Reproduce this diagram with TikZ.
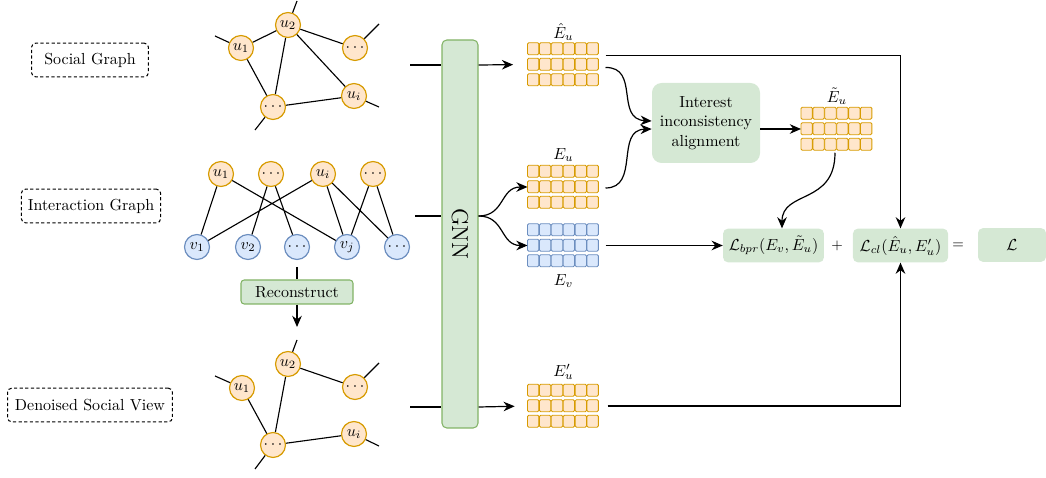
\documentclass[tikz,border=0pt]{standalone}
\usepackage{graphicx}
\usetikzlibrary{arrows.meta,calc}
\definecolor{ofill}{HTML}{FFE6CC}
\definecolor{odraw}{HTML}{D79B00}
\definecolor{bfill}{HTML}{DAE8FC}
\definecolor{bdraw}{HTML}{6C8EBF}
\definecolor{gfill}{HTML}{D5E8D4}
\definecolor{gdraw}{HTML}{82B366}
\newcommand\mycells[3]{%
  \foreach \r in {0,1,2}{\foreach \c in {0,...,5}{
    \draw[fill=#2,draw=#3,line width=0.55pt,rounded corners=0.8pt]
      ($(#1.north west)+(\c*11.9,\r*15.5)$) rectangle ++(11.4,12);
  }}}
\begin{document}
\begin{tikzpicture}[x=0.625pt,y=-0.625pt,
  unode/.style={circle,draw=odraw,fill=ofill,line width=0.75pt,minimum size=15.6pt,inner sep=0pt},
  inode/.style={circle,draw=bdraw,fill=bfill,line width=0.75pt,minimum size=15.6pt,inner sep=0pt},
  tagbox/.style={draw,dashed,dash pattern=on 2pt off 1.5pt,rounded corners=2.5pt,line width=0.65pt,minimum height=21pt,inner sep=2pt},
  edge/.style={line width=0.7pt},
  arr/.style={line width=0.75pt,-{Stealth[length=7pt,width=6pt]}},
  mat/.style={minimum width=44.6pt,minimum height=26.8pt,inner sep=0pt},
  gbox/.style={fill=gfill,rounded corners=3pt,inner sep=0pt,minimum height=21pt},
  sym/.style={font=\sffamily\small,inner sep=0pt}
]
\useasboundingbox (0,0) rectangle (1046,478);

% ---------- Social graph ----------
\node[tagbox,minimum width=73pt] (tsg) at (90,60) {Social Graph};
\node[unode] (s1) at (241,48) {$u_1$};
\node[unode] (s2) at (288,25) {$u_2$};
\node[unode] (s3) at (355,48) {$\cdots$};
\node[unode] (s4) at (273,107) {$\cdots$};
\node[unode] (s5) at (354,96) {$u_i$};
\coordinate (s1a) at (215,36);
\coordinate (s2a) at (297,1);
\coordinate (s3a) at (379,24);
\coordinate (s4a) at (255,130);
\coordinate (s5a) at (379,107);
\draw[edge] (s1)--(s2) (s2)--(s3) (s2)--(s4) (s2)--(s5) (s1)--(s4) (s4)--(s5)
  (s1)--(s1a) (s2)--(s2a) (s3)--(s3a) (s4)--(s4a) (s5)--(s5a);

% ---------- Interaction graph ----------
\node[tagbox,minimum width=87pt] (tig) at (91,206) {Interaction Graph};
\node[unode] (a1) at (221,174) {$u_1$};
\node[unode] (a2) at (271,174) {$\cdots$};
\node[unode] (a3) at (323,174) {$u_i$};
\node[unode] (a4) at (373,174) {$\cdots$};
\node[inode] (b1) at (197,247) {$v_1$};
\node[inode] (b2) at (248,247) {$v_2$};
\node[inode] (b3) at (297,247) {$\cdots$};
\node[inode] (b4) at (347,247) {$v_j$};
\node[inode] (b5) at (397,247) {$\cdots$};
\draw[edge] (a1)--(b1) (a1)--(b4) (a2)--(b2) (a2)--(b3) (a3)--(b1) (a3)--(b4)
  (a3)--(b5) (a4)--(b4) (a4)--(b5);

% ---------- Reconstruct ----------
\node[fill=gfill,draw=gdraw,line width=0.65pt,rounded corners=2pt,minimum width=70pt,minimum height=15pt,inner sep=0pt] (rec) at (297,292) {Reconstruct};
\coordinate (rtop) at (297,267);
\coordinate (rbot) at (297,327);
\draw[edge] (rtop) -- (rec.north);
\draw[arr] (rec.south) -- (rbot);

% ---------- Denoised social view ----------
\node[tagbox,minimum width=103pt] (tds) at (90,405) {Denoised Social View};
\node[unode] (d1) at (242,388) {$u_1$};
\node[unode] (d2) at (288,364) {$u_2$};
\node[unode] (d3) at (355,387) {$\cdots$};
\node[unode] (d4) at (273,445) {$\cdots$};
\node[unode] (d5) at (354,434) {$u_i$};
\coordinate (d1a) at (215,376);
\coordinate (d2a) at (297,340);
\coordinate (d3a) at (379,363);
\coordinate (d4a) at (255,469);
\coordinate (d5a) at (379,446);
\draw[edge] (d2)--(d3) (d2)--(d4) (d1)--(d4) (d4)--(d5)
  (d1)--(d1a) (d2)--(d2a) (d3)--(d3a) (d4)--(d4a) (d5)--(d5a);

% ---------- GNN ----------
\node[fill=gfill,draw=gdraw,line width=0.65pt,rounded corners=3pt,minimum width=22.5pt,minimum height=242.5pt,inner sep=0pt] (gnn) at (460,234) {\rotatebox{-90}{\Large GNN}};

% ---------- matrices ----------
\node[mat] (Eh) at (563.5,64.5) {};
\mycells{Eh}{ofill}{odraw}
\node[inner sep=1pt] (lEh) at (563.5,32) {$\hat{E}_u$};
\node[mat] (Eu) at (563.5,187) {};
\mycells{Eu}{ofill}{odraw}
\node[inner sep=1pt] (lEu) at (563.5,155) {$E_u$};
\node[mat] (Ev) at (563.5,245.5) {};
\mycells{Ev}{bfill}{bdraw}
\node[inner sep=1pt] (lEv) at (563.5,281) {$E_v$};
\node[mat] (Ep) at (563.5,406) {};
\mycells{Ep}{ofill}{odraw}
\node[inner sep=1pt] (lEp) at (563.5,372) {$E'_u$};
\node[mat] (Et) at (837,129) {};
\mycells{Et}{ofill}{odraw}
\node[inner sep=1pt] (lEt) at (837,96) {$\tilde{E}_u$};

% ---------- inputs to GNN ----------
\coordinate (in1) at (410,65);
\coordinate (in2) at (415,216);
\coordinate (in3) at (410,407);
\draw[edge] (in1) -- (in1 -| gnn.west);
\draw[arr,shorten >=9pt] (in1 -| gnn.east) -- (Eh.west);
\draw[edge] (in2) -- (in2 -| gnn.west);
\draw[arr] (in2 -| gnn.east) .. controls (505,216) and (500,187) .. (Eu.west);
\draw[arr] (in2 -| gnn.east) .. controls (505,216) and (500,245.5) .. (Ev.west);
\draw[edge] (in3) -- (in3 -| gnn.west);
\draw[arr,shorten >=8pt] (in3 -| gnn.east) -- (Ep.west);

% ---------- alignment ----------
\node[fill=gfill,rounded corners=6pt,minimum width=67.5pt,minimum height=50pt,align=center,inner sep=0pt] (ia) at (706,123) {Interest\\inconsistency\\alignment};
\draw[arr] ($(Eh.east)+(6,3)$) .. controls (640,67) and (615,119) .. ($(ia.west)+(0,-2)$);
\draw[arr] ($(Eu.east)+(6,1)$) .. controls (640,188) and (615,130) .. ($(ia.west)+(0,6)$);
\draw[arr] (ia.east |- Et.center) -- (Et.west);

% ---------- losses ----------
\node[gbox,minimum width=63pt] (Lbpr) at (773.5,245.5) {$\mathcal{L}_{bpr}(E_v,\tilde{E}_u)$};
\node[sym] (plus) at (837,246) {+};
\node[gbox,minimum width=59.4pt] (Lcl) at (900.5,245.5) {$\mathcal{L}_{cl}(\hat{E}_u,E'_u)$};
\node[sym] (eq) at (958,246) {=};
\node[gbox,minimum width=42.5pt] (L) at (1012,245) {$\mathcal{L}$};

\draw[arr] ($(Ev.east)+(6,0)$) -- (Lbpr.west);
\draw[arr] ($(Et.south)+(-2,2)$) .. controls (835,205) and (782,190) .. ($(Lbpr.north)+(8.5,0)$);
\draw[arr] ($(Eh.east)+(6,-9)$) -| (Lcl.north);
\draw[arr] ($(Ep.east)+(8,0)$) -| (Lcl.south);
\end{tikzpicture}
\end{document}
